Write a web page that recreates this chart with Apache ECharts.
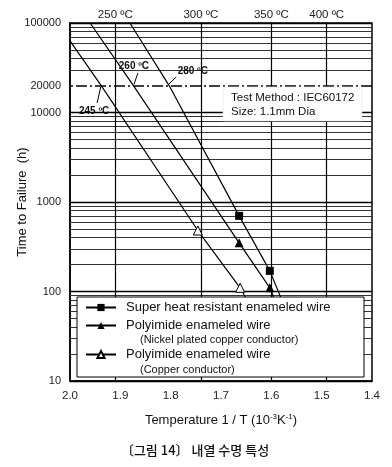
<!DOCTYPE html>
<html><head><meta charset="utf-8">
<script src="https://cdn.jsdelivr.net/npm/echarts@6/dist/echarts.min.js"></script>
<style>html,body{margin:0;padding:0;background:#fff}#c{width:392px;height:467px}</style>
</head><body><div id="c"></div>
<script>
// ---- data ----
const seriesNames = [
  'Super heat resistant enameled wire',
  'Polyimide enameled wire (Nickel plated copper conductor)',
  'Polyimide enameled wire (Copper conductor)'
];
const superX  = [1.881, 1.803, 1.664, 1.603, 1.579];
const superY  = [100000, 20000, 700, 170, 80];
const superMark = [0, 0, 1, 1, 0];
const nickelX = [1.960, 1.874, 1.664, 1.603, 1.593];
const nickelY = [100000, 20000, 350, 110, 80];
const nickelMark = [0, 0, 1, 1, 0];
const copperX = [2.0, 1.938, 1.746, 1.662, 1.648];
const copperY = [63000, 20000, 480, 110, 80];
const copperMark = [0, 0, 1, 1, 0];
const tempLinesC = [250, 300, 350, 400];
const yLabelValues = [10, 100, 1000, 10000, 20000, 100000];
const xMin = 1.4, xMax = 2.0, xStep = 0.1;
const decadeStarts = [10, 100, 1000, 10000];
const minorMultipliers = [2, 3, 4, 5, 6, 7, 8, 9];
const dashedLevel = 20000;
const annotTexts = ['245 ºC', '260 ºC', '280 ºC'];
const annotTextPos = [[1.952, 10400], [1.873, 33100], [1.756, 29100]];
const annotArrowFrom = [[1.946, 12800], [1.865, 27600], [1.789, 24900]];
const annotArrowTo = [[1.939, 19300], [1.873, 20600], [1.805, 20400]];
const legendSubText = ['(Nickel plated copper conductor)', '(Copper conductor)'];
const infoText = 'Test Method : IEC60172\nSize: 1.1mm Dia';
const captionText = '〔그림 14〕 내열 수명 특성';

// ---- build ----
const FONT = '"Liberation Sans", Arial, sans-serif';
function pts(xs, ys, marks) {
  return xs.map((x, i) => marks[i] ? [x, ys[i]] : { value: [x, ys[i]], symbol: 'none' });
}
const minorGrid = [];
decadeStarts.forEach(d => minorMultipliers.forEach(m => {
  const v = d * m;
  if (v !== dashedLevel) minorGrid.push({ yAxis: v });
}));

const chart = echarts.init(document.getElementById('c'), null, { renderer: 'canvas' });
const lineBase = {
  type: 'line', animation: false, silent: true,
  lineStyle: { color: '#000', width: 1.2 },
  emphasis: { disabled: true }, z: 2
};
const legendCommon = {
  left: 85, padding: 0, itemWidth: 30, itemHeight: 9, selectedMode: false, z: 10,
  textStyle: { fontSize: 13, color: '#111', fontFamily: FONT, padding: [0, 0, 0, 5] },
  formatter: n => n.split(' (')[0]
};
chart.setOption({
  animation: false,
  textStyle: { fontFamily: FONT },
  grid: { left: 70, right: 20, top: 23, bottom: 86, containLabel: false, outerBoundsMode: 'none',
    show: true, borderColor: '#000', borderWidth: 1.5, backgroundColor: 'transparent' },
  xAxis: {
    type: 'value', min: xMin, max: xMax, interval: xStep, inverse: true,
    axisLine: { show: true, lineStyle: { color: '#000', width: 1.5 } },
    axisTick: { show: false }, splitLine: { show: false },
    axisLabel: { formatter: v => v.toFixed(1), fontSize: 11.5, color: '#222', margin: 9 },
    name: 'Temperature 1 / T (10{s|-3}K{s|-1})', nameLocation: 'middle', nameGap: 32,
    nameTextStyle: { fontSize: 13, color: '#111', rich: { s: { fontSize: 8, verticalAlign: 'top', color: '#111', padding: [0, 0, 6, 0] } } }
  },
  yAxis: {
    type: 'log', logBase: 10, min: 10, max: 100000,
    axisLine: { show: true, lineStyle: { color: '#000', width: 1.5 } },
    axisTick: { show: false },
    axisLabel: { customValues: yLabelValues, formatter: v => String(Math.round(v)), fontSize: 11, color: '#222', margin: 9 },
    splitLine: { show: true, lineStyle: { color: '#000', width: 1.3 } },
    name: 'Time to Failure  (h)', nameLocation: 'middle', nameGap: 41, nameMoveOverlap: false,
    nameTextStyle: { fontSize: 13, color: '#111' }
  },
  legend: [
    Object.assign({}, legendCommon, { data: [seriesNames[0]], top: 301 }),
    Object.assign({}, legendCommon, { data: [seriesNames[1]], top: 319 }),
    Object.assign({}, legendCommon, { data: [seriesNames[2]], top: 348 })
  ],
  series: [
    Object.assign({}, lineBase, { name: seriesNames[0], symbol: 'rect', symbolSize: 8,
      itemStyle: { color: '#000' }, data: pts(superX, superY, superMark) }),
    Object.assign({}, lineBase, { name: seriesNames[1], symbol: 'triangle', symbolSize: 9,
      itemStyle: { color: '#000' }, data: pts(nickelX, nickelY, nickelMark) }),
    Object.assign({}, lineBase, { name: seriesNames[2], symbol: 'triangle', symbolSize: 9,
      itemStyle: { color: '#fff', borderColor: '#000', borderWidth: 1 }, data: pts(copperX, copperY, copperMark) }),
    // grid helper: minor log lines
    { type: 'line', data: [], silent: true, z: 1,
      markLine: { z: 1, silent: true, symbol: 'none', animation: false, label: { show: false },
        lineStyle: { color: '#333', width: 1, type: 'solid' }, data: minorGrid } },
    // dashed 20000 line
    { type: 'line', data: [], silent: true, z: 1,
      markLine: { z: 1, silent: true, symbol: 'none', animation: false, label: { show: false },
        lineStyle: { color: '#000', width: 1.6, type: [11, 3, 2, 3] }, data: [{ yAxis: dashedLevel }] } },
    // temperature verticals
    { type: 'line', data: [], silent: true, z: 1,
      markLine: { z: 1, silent: true, symbol: 'none', animation: false,
        lineStyle: { color: '#000', width: 1.2, type: 'solid' },
        label: { show: true, position: 'end', distance: 2, fontSize: 11.5, color: '#222', fontFamily: FONT },
        data: tempLinesC.map(t => ({ xAxis: 1000 / (t + 273.15), label: { formatter: t + ' ºC' } })) } },
    // annotations
    { type: 'line', data: [], silent: true, z: 3,
      markLine: { z: 3, silent: true, animation: false, symbol: ['none', 'arrow'], symbolSize: [0, 7],
        lineStyle: { color: '#000', width: 1, type: 'solid' }, label: { show: false },
        data: annotArrowFrom.map((f, i) => [{ coord: f }, { coord: annotArrowTo[i] }]) },
      markPoint: { z: 3, silent: true, animation: false, symbol: 'rect', symbolSize: 1,
        itemStyle: { color: 'rgba(0,0,0,0)' },
        label: { show: true, position: 'inside', formatter: '{b}', fontSize: 10, fontWeight: 'bold', color: '#111', fontFamily: FONT },
        data: annotTexts.map((t, i) => ({ name: t, coord: annotTextPos[i] })) } }
  ],
  graphic: [
    { type: 'rect', z: 6, silent: true, shape: { x: 77, y: 297, width: 287, height: 80 },
      style: { fill: '#fff', stroke: '#000', lineWidth: 1 } },
    { type: 'text', z: 11, silent: true, x: 140, y: 340,
      style: { text: legendSubText[0], fill: '#111', font: '11px ' + FONT, verticalAlign: 'middle' } },
    { type: 'text', z: 11, silent: true, x: 140, y: 370,
      style: { text: legendSubText[1], fill: '#111', font: '11px ' + FONT, verticalAlign: 'middle' } },
    { type: 'rect', z: 6, silent: true, shape: { x: 223, y: 87, width: 139, height: 34 },
      style: { fill: '#fff', stroke: '#ddd', lineWidth: 0.5 } },
    { type: 'text', z: 11, silent: true, x: 231, y: 91,
      style: { text: infoText, font: '11.5px ' + FONT, fill: '#111', lineHeight: 14 } },
    { type: 'text', z: 11, silent: true, x: 195, y: 450,
      style: { text: captionText, font: '500 13px "Noto Sans CJK KR"', fill: '#111', align: 'center', verticalAlign: 'middle' } }
  ]
});
</script>
</body></html>
